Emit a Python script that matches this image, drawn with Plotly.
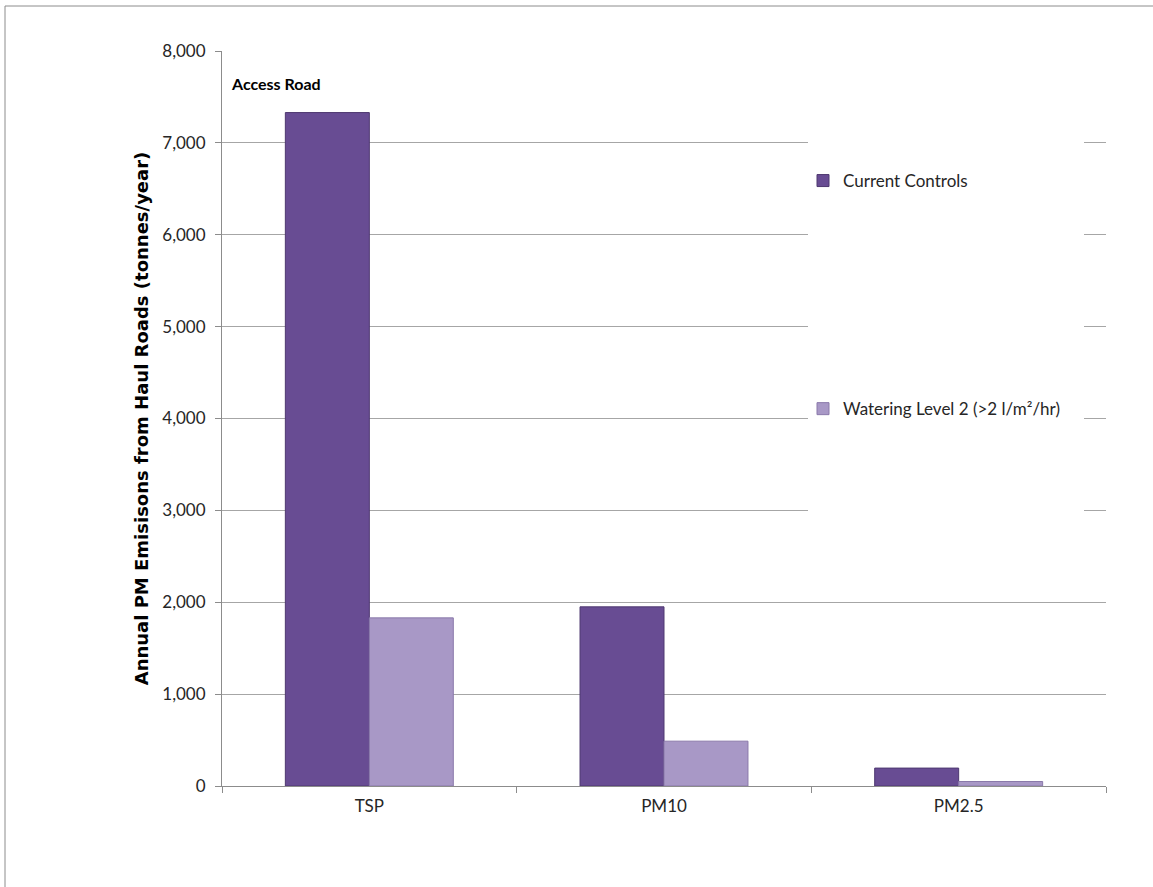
import plotly.graph_objects as go

# Annual PM emissions from haul roads, access road scenario
categories = ["TSP", "PM10", "PM2.5"]
current_controls = [7330, 1950, 195]
watering_level2 = [1830, 488, 49]
series_names = ["Current Controls", "Watering Level 2 (>2 l/m²/hr)"]
y_ticks = [0, 1000, 2000, 3000, 4000, 5000, 6000, 7000, 8000]

FONT = "Lato"
W, H = 1153, 887
ML, MR, MT, MB = 222, 47, 51, 101
PW, PH = W - ML - MR, H - MT - MB

fig = go.Figure()
fig.add_trace(go.Bar(
    x=categories, y=current_controls, name=series_names[0],
    legendgroup="a",
    marker=dict(color="#684c93", line=dict(color="#4e3870", width=1)),
))
fig.add_trace(go.Bar(
    x=categories, y=watering_level2, name=series_names[1],
    legendgroup="b",
    marker=dict(color="#a898c6", line=dict(color="#8a79aa", width=1)),
))

def px_x(p):
    return (p - ML) / PW

def px_y(p):
    return (H - MB - p) / PH

shapes = [
    # white panel behind the legend, masking the gridlines
    dict(type="rect", xref="paper", yref="paper", layer="above",
         x0=px_x(808), x1=px_x(1084), y0=px_y(522), y1=px_y(66),
         fillcolor="white", line=dict(width=0)),
    # outer chart border
    dict(type="rect", xref="paper", yref="paper", layer="above",
         x0=px_x(5), x1=px_x(1200), y0=px_y(940), y1=px_y(6),
         fillcolor="rgba(0,0,0,0)", line=dict(color="#8c8c8c", width=1)),
]

fig.update_layout(
    width=W, height=H,
    margin=dict(l=ML, r=MR, t=MT, b=MB),
    paper_bgcolor="white", plot_bgcolor="white",
    barmode="group", bargap=0.43, bargroupgap=0,
    font=dict(family=FONT, size=17, color="#262626"),
    showlegend=True,
    legend=dict(
        x=px_x(803), y=px_y(163), xanchor="left", yanchor="top",
        bgcolor="rgba(0,0,0,0)", font=dict(family=FONT, size=17, color="#262626"),
        tracegroupgap=203, traceorder="grouped", itemwidth=30,
    ),
    shapes=shapes,
    annotations=[dict(
        text="<b>Access Road</b>", xref="paper", yref="paper",
        x=px_x(229), y=px_y(83), xanchor="left", yanchor="middle",
        showarrow=False, font=dict(family=FONT, size=16, color="black"),
    )],
    xaxis=dict(
        showline=True, linecolor="#8c8c8c", linewidth=1,
        ticks="outside", tickson="boundaries", ticklen=6, tickcolor="#8c8c8c",
        tickfont=dict(family=FONT, size=17, color="#262626"),
        ticklabelstandoff=5,
        showgrid=False,
    ),
    yaxis=dict(
        range=[0, 8000], tickvals=y_ticks, tickformat=",",
        showline=True, linecolor="#8c8c8c", linewidth=1,
        ticks="outside", ticklen=6, tickcolor="#8c8c8c",
        showgrid=True, gridcolor="#a6a6a6", gridwidth=1,
        zeroline=False,
        ticklabelstandoff=6,
        tickfont=dict(family=FONT, size=17, color="#262626"),
        title=dict(text="<b>Annual PM Emisisons from Haul Roads (tonnes/year)</b>",
                   font=dict(family="DejaVu Sans", size=18, color="black"),
                   standoff=8),
    ),
)

fig.write_html("out.html")
